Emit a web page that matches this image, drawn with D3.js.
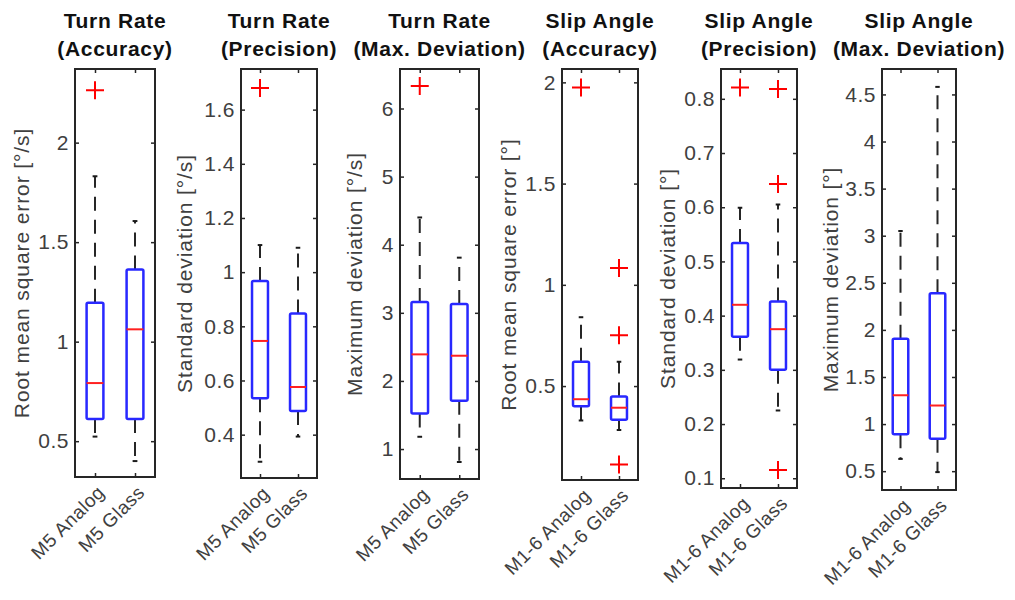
<!DOCTYPE html>
<html>
<head>
<meta charset="utf-8">
<script src="https://cdn.jsdelivr.net/npm/d3@7"></script>
<style>
  html, body { margin: 0; padding: 0; background: #ffffff; }
  svg { display: block; font-family: "Liberation Sans", Arial, Helvetica, sans-serif; }
</style>
</head>
<body>
<svg id="chart" width="1015" height="600"></svg>
<script>
// ---------------- data ----------------
const panelTitles = [
  ["Turn Rate", "(Accuracy)"],
  ["Turn Rate", "(Precision)"],
  ["Turn Rate", "(Max. Deviation)"],
  ["Slip Angle", "(Accuracy)"],
  ["Slip Angle", "(Precision)"],
  ["Slip Angle", "(Max. Deviation)"]
];
const yAxisLabels = [
  "Root mean square error [°/s]",
  "Standard deviation [°/s]",
  "Maximum deviation [°/s]",
  "Root mean square error [°]",
  "Standard deviation [°]",
  "Maximum deviation [°]"
];
const categories = [
  ["M5 Analog", "M5 Glass"],
  ["M5 Analog", "M5 Glass"],
  ["M5 Analog", "M5 Glass"],
  ["M1-6 Analog", "M1-6 Glass"],
  ["M1-6 Analog", "M1-6 Glass"],
  ["M1-6 Analog", "M1-6 Glass"]
];
const yLimits = [
  [0.32, 2.37],
  [0.24, 1.75],
  [0.56, 6.58],
  [0.036, 2.066],
  [0.082, 0.855],
  [0.30, 4.77]
];
const yTickValues = [
  [0.5, 1, 1.5, 2],
  [0.4, 0.6, 0.8, 1, 1.2, 1.4, 1.6],
  [1, 2, 3, 4, 5, 6],
  [0.5, 1, 1.5, 2],
  [0.1, 0.2, 0.3, 0.4, 0.5, 0.6, 0.7, 0.8],
  [0.5, 1, 1.5, 2, 2.5, 3, 3.5, 4, 4.5]
];
// per panel: [analog, glass]
const lowerWhisker = [[0.523, 0.40], [0.30, 0.393], [1.18, 0.81], [0.33, 0.283], [0.319, 0.225], [0.63, 0.49]];
const quartile1    = [[0.612, 0.612], [0.534, 0.487], [1.52, 1.71], [0.40, 0.334], [0.361, 0.30], [0.893, 0.845]];
const medians      = [[0.792, 1.062], [0.746, 0.576], [2.39, 2.37], [0.435, 0.393], [0.420, 0.375], [1.306, 1.197]];
const quartile3    = [[1.196, 1.362], [0.967, 0.847], [3.16, 3.13], [0.62, 0.448], [0.534, 0.426], [1.906, 2.39]];
const upperWhisker = [[1.831, 1.606], [1.10, 1.09], [4.40, 3.81], [0.84, 0.62], [0.599, 0.605], [3.05, 4.58]];
const outliers     = [[[2.263], []], [[1.68], []], [[6.33], []], [[1.975], [1.083, 0.751, 0.112]], [[0.821], [0.818, 0.643, 0.115]], [[], []]];

// ---------------- layout ----------------
const panelFrames = [
  {x0: 75,  x1: 155, y0: 69, y1: 477, labelX: 22},
  {x0: 241, x1: 317, y0: 69, y1: 478, labelX: 185},
  {x0: 400, x1: 479, y0: 69, y1: 479, labelX: 355},
  {x0: 562, x1: 638, y0: 69, y1: 480, labelX: 509},
  {x0: 721, x1: 797, y0: 69, y1: 488, labelX: 668},
  {x0: 882, x1: 956, y0: 69, y1: 490, labelX: 831}
];

const svg = d3.select("#chart");
const axisColor = "#262626";
const textColor = "#404040";

panelFrames.forEach((f, p) => {
  const g = svg.append("g");
  const x = d3.scaleLinear().domain([0.5, 2.5]).range([f.x0, f.x1]);
  const y = d3.scaleLinear().domain(yLimits[p]).range([f.y1, f.y0]);
  const boxHalf = 0.21;
  const capHalf = 0.06;

  [0, 1].forEach(i => {
    const cx = i + 1;
    const dash = "14,9";
    g.append("line")
      .attr("x1", x(cx)).attr("x2", x(cx))
      .attr("y1", y(quartile3[p][i])).attr("y2", y(upperWhisker[p][i]))
      .attr("stroke", "#262626").attr("stroke-width", 2).attr("stroke-dasharray", dash);
    g.append("line")
      .attr("x1", x(cx)).attr("x2", x(cx))
      .attr("y1", y(quartile1[p][i])).attr("y2", y(lowerWhisker[p][i]))
      .attr("stroke", "#262626").attr("stroke-width", 2).attr("stroke-dasharray", dash);
    [upperWhisker[p][i], lowerWhisker[p][i]].forEach(v => {
      g.append("line")
        .attr("x1", x(cx - capHalf)).attr("x2", x(cx + capHalf))
        .attr("y1", y(v)).attr("y2", y(v))
        .attr("stroke", "#1a1a1a").attr("stroke-width", 2);
    });
    g.append("rect")
      .attr("x", x(cx - boxHalf)).attr("width", x(cx + boxHalf) - x(cx - boxHalf))
      .attr("y", y(quartile3[p][i])).attr("height", y(quartile1[p][i]) - y(quartile3[p][i]))
      .attr("fill", "none").attr("stroke", "#2828ff").attr("stroke-width", 2.5).attr("rx", 1.5);
    g.append("line")
      .attr("x1", x(cx - boxHalf)).attr("x2", x(cx + boxHalf))
      .attr("y1", y(medians[p][i])).attr("y2", y(medians[p][i]))
      .attr("stroke", "#ff2020").attr("stroke-width", 2);
    outliers[p][i].forEach(v => {
      const px = x(cx), py = y(v), r = 9;
      g.append("path")
        .attr("d", `M${px - r},${py}H${px + r}M${px},${py - r}V${py + r}`)
        .attr("stroke", "#ff0000").attr("stroke-width", 2).attr("fill", "none");
    });
  });

  const yl = g.append("g").attr("transform", `translate(${f.x0},0)`)
    .call(d3.axisLeft(y).tickValues(yTickValues[p]).tickSizeInner(-4).tickSizeOuter(0).tickPadding(6)
      .tickFormat(d3.format("~g")));
  const yr = g.append("g").attr("transform", `translate(${f.x1},0)`)
    .call(d3.axisRight(y).tickValues(yTickValues[p]).tickSizeInner(-4).tickSizeOuter(0).tickFormat(""));
  const xb = g.append("g").attr("transform", `translate(0,${f.y1})`)
    .call(d3.axisBottom(x).tickValues([1, 2]).tickSizeInner(-4).tickSizeOuter(0).tickFormat(""));
  const xt = g.append("g").attr("transform", `translate(0,${f.y0})`)
    .call(d3.axisTop(x).tickValues([1, 2]).tickSizeInner(-4).tickSizeOuter(0).tickFormat(""));
  [yl, yr, xb, xt].forEach(a => {
    a.select(".domain").remove();
    a.selectAll(".tick line").attr("stroke", axisColor).attr("stroke-width", 1.5);
  });
  yl.selectAll(".tick text")
    .attr("fill", textColor).style("font-size", "21px").style("letter-spacing", "0.5px")
    .style("font-family", "Liberation Sans, Arial, sans-serif");

  g.append("rect")
    .attr("x", f.x0).attr("y", f.y0).attr("width", f.x1 - f.x0).attr("height", f.y1 - f.y0)
    .attr("fill", "none").attr("stroke", axisColor).attr("stroke-width", 2);

  categories[p].forEach((c, i) => {
    g.append("text")
      .attr("transform", `translate(${x(i + 1) + 6},${f.y1 + 12}) rotate(-45)`)
      .attr("text-anchor", "end").attr("dy", "0.35em")
      .attr("fill", textColor).style("font-size", "19px").style("letter-spacing", "0.5px")
      .text(c);
  });

  g.append("text")
    .attr("transform", `translate(${f.labelX},${(f.y0 + f.y1) / 2}) rotate(-90)`)
    .attr("text-anchor", "middle").attr("dy", "0.35em")
    .attr("fill", textColor).style("font-size", "21px").style("letter-spacing", "0.9px")
    .text(yAxisLabels[p]);

  const cxm = (f.x0 + f.x1) / 2;
  panelTitles[p].forEach((t, k) => {
    g.append("text")
      .attr("x", cxm).attr("y", 28 + k * 28)
      .attr("text-anchor", "middle").attr("font-weight", "bold")
      .attr("fill", "#111").style("font-size", "21px").style("letter-spacing", "0.7px")
      .text(t);
  });
});
</script>
</body>
</html>
